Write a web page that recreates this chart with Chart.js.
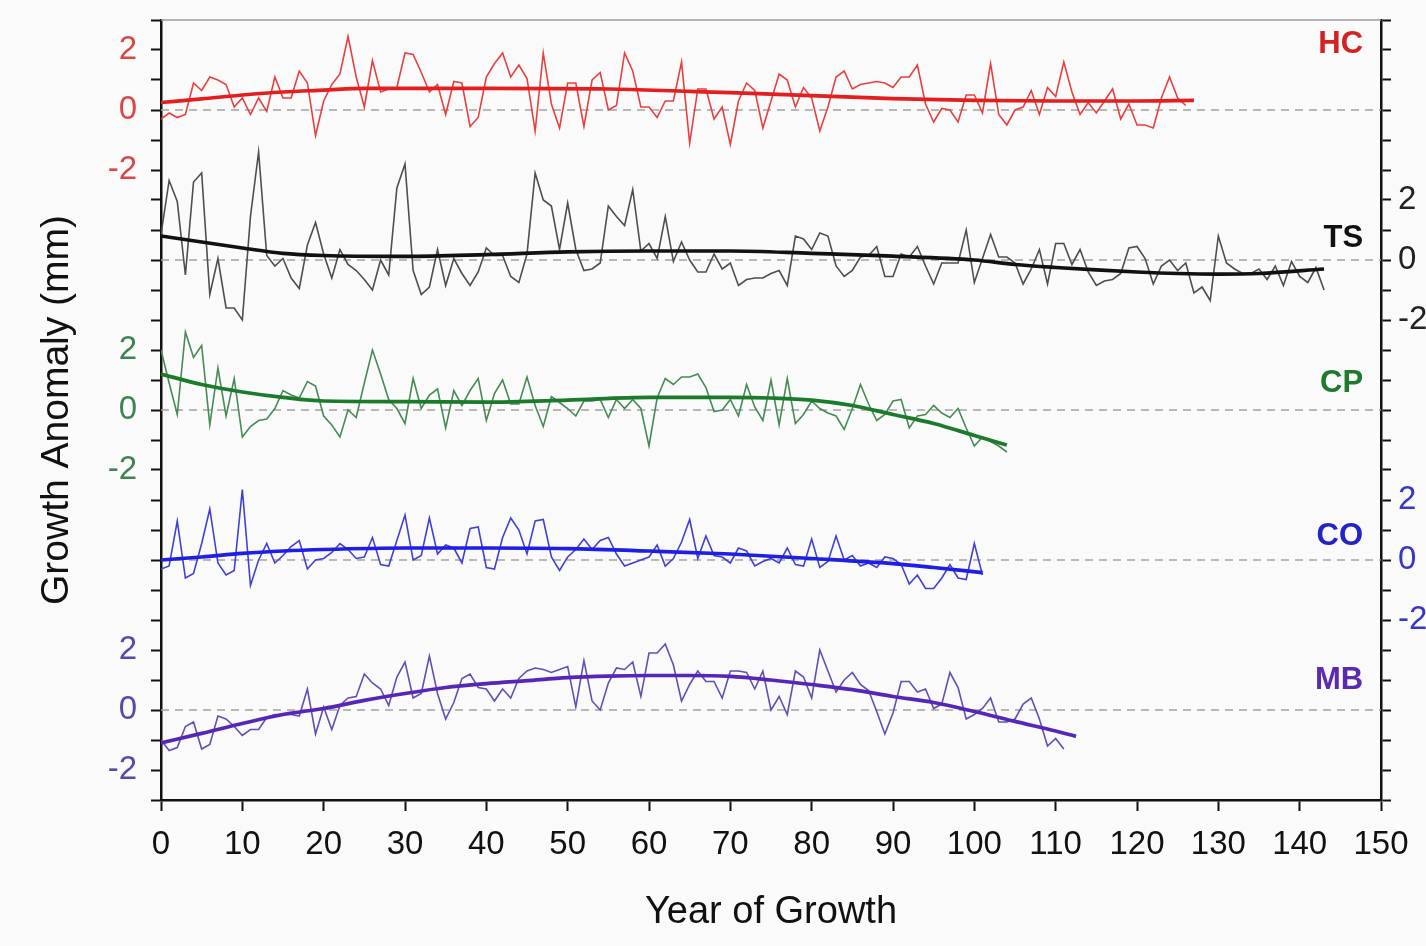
<!DOCTYPE html>
<html>
<head>
<meta charset="utf-8">
<script src="https://cdn.jsdelivr.net/npm/chart.js@4.4.1/dist/chart.umd.min.js"></script>
<style>
  html, body { margin: 0; padding: 0; background: #fafafa; }
  #wrap { width: 1426px; height: 946px; }
</style>
</head>
<body>
<div id="wrap"><canvas id="growthChart"></canvas></div>
<script>
// annual growth anomalies (mm), one value per year of growth from year 0
const hcAnnual = [-0.3, -0.1, -0.25, -0.15, 0.9, 0.65, 1.1, 1.0, 0.85, 0.1, 0.4, -0.15, 0.4, -0.05, 1.1, 0.4, 0.4, 1.3, 0.9, -0.85,
  0.3, 0.85, 1.2, 2.45, 1.1, 0.1, 1.65, 0.6, 0.7, 0.75, 1.9, 1.85, 1.25, 0.6, 0.85, -0.15, 0.95, 0.9, -0.55, -0.25,
  1.1, 1.55, 1.9, 1.1, 1.5, 1.05, -0.7, 1.9, 0.2, -0.6, 0.9, 0.9, -0.55, 1.0, 1.25, 0.0, 0.15, 1.9, 1.3, 0.1,
  0.1, -0.25, 0.3, 0.3, 1.6, -1.1, 0.7, 0.7, -0.3, 0.1, -1.15, 0.3, 0.9, 0.65, -0.6, 0.3, 1.2, 1.0, 0.1, 0.75,
  0.4, -0.7, 0.1, 1.1, 1.3, 0.7, 0.85, 0.9, 0.95, 0.9, 0.75, 1.1, 1.1, 1.5, 0.2, -0.4, 0.05, 0.0, -0.4, 0.5,
  0.5, -0.1, 1.55, -0.15, -0.5, 0.0, 0.1, 0.65, -0.15, 0.75, 0.45, 1.6, 0.6, -0.15, 0.25, -0.1, 0.3, 0.7, -0.3, 0.2,
  -0.5, -0.5, -0.6, 0.4, 1.1, 0.4, 0.15];
const tsAnnual = [0.85, 2.65, 1.95, -0.5, 2.6, 2.9, -1.15, 0.05, -1.6, -1.6, -2.0, 1.45, 3.6, 0.15, -0.2, 0.05, -0.6, -0.95, 0.5, 1.25,
  0.2, -0.6, 0.35, -0.15, -0.35, -0.65, -1.0, 0.0, -0.5, 2.4, 3.2, -0.35, -1.15, -0.9, 0.35, -0.85, 0.05, -0.45, -0.85, -0.4,
  0.4, 0.15, 0.15, -0.55, -0.75, 0.2, 2.9, 2.0, 1.8, 0.35, 1.9, 0.35, -0.35, -0.3, -0.1, 1.8, 1.45, 1.15, 2.35, 0.3,
  0.55, 0.05, 1.45, -0.05, 0.6, 0.0, -0.4, -0.4, 0.2, -0.3, -0.1, -0.85, -0.65, -0.6, -0.6, -0.45, -0.35, -0.85, 0.8, 0.7,
  0.35, 0.9, 0.8, -0.2, -0.55, -0.35, 0.1, 0.15, 0.45, -0.55, -0.55, 0.2, 0.1, 0.45, -0.2, -0.8, -0.1, -0.1, -0.1, 1.0,
  -0.75, 0.05, 0.85, 0.1, 0.1, -0.1, -0.8, -0.3, 0.35, -0.8, 0.55, 0.55, -0.15, 0.35, -0.4, -0.85, -0.7, -0.65, -0.45, 0.4,
  0.45, 0.05, -0.8, -0.2, 0.0, -0.35, -0.1, -1.1, -0.9, -1.35, 0.8, -0.1, -0.3, -0.45, -0.45, -0.3, -0.65, -0.2, -0.85, -0.05,
  -0.55, -0.75, -0.25, -1.0];
const cpAnnual = [2.0, 0.9, -0.15, 2.6, 1.75, 2.15, -0.5, 1.4, -0.2, 1.05, -0.9, -0.55, -0.35, -0.3, 0.05, 0.65, 0.5, 0.4, 0.95, 0.8,
  -0.2, -0.5, -0.9, 0.0, -0.25, 0.9, 2.0, 1.2, 0.35, 0.05, -0.45, 1.05, 0.05, 0.5, 0.7, -0.6, 0.65, 0.15, 0.65, 1.05,
  -0.35, 0.55, 1.0, 0.2, 0.2, 1.1, 0.15, -0.55, 0.45, 0.25, 0.05, -0.2, 0.3, 0.3, 0.35, -0.25, 0.35, 0.05, 0.35, 0.05,
  -1.2, 0.4, 1.05, 0.85, 1.1, 1.1, 1.2, 0.75, -0.05, 0.0, 0.35, -0.2, 0.85, 0.1, -0.35, 1.0, -0.5, 1.05, -0.45, -0.15,
  0.3, 0.05, -0.1, -0.2, -0.65, 0.05, 0.85, 0.2, -0.35, -0.15, 0.3, 0.35, -0.6, -0.2, -0.15, 0.15, -0.1, -0.25, 0.05, -0.6,
  -1.2, -0.9, -1.05, -1.2, -1.4];
const coAnnual = [-0.3, -0.2, 1.3, -0.6, -0.45, 0.55, 1.7, -0.1, -0.5, -0.35, 2.35, -0.85, 0.0, 0.55, -0.1, 0.15, 0.45, 0.65, -0.3, 0.0,
  0.05, 0.25, 0.55, 0.35, 0.05, 0.1, 0.75, -0.15, -0.2, 0.65, 1.5, 0.0, 0.15, 1.4, 0.2, 0.5, 0.4, -0.1, 1.05, 1.1,
  -0.25, -0.3, 0.75, 1.4, 1.0, 0.2, 1.3, 1.35, 0.1, -0.35, 0.1, 0.35, 0.7, 0.35, 0.65, 0.75, 0.2, -0.2, -0.1, 0.0,
  0.1, 0.5, -0.2, 0.05, 0.6, 1.35, 0.05, 0.8, 0.15, 0.1, -0.1, 0.4, 0.3, -0.2, -0.05, 0.05, -0.1, 0.4, -0.15, -0.2,
  0.7, -0.25, -0.05, 0.8, 0.0, 0.15, -0.2, -0.1, -0.25, 0.1, 0.05, -0.15, -0.8, -0.5, -0.95, -0.95, -0.6, -0.15, -0.6, -0.65,
  0.55, -0.5];
const mbAnnual = [-1.0, -1.35, -1.25, -0.55, -0.4, -1.3, -1.15, -0.2, -0.3, -0.55, -0.85, -0.65, -0.65, -0.25, -0.15, -0.15, -0.15, -0.2, 0.7, -0.8,
  0.1, -0.65, 0.15, 0.4, 0.45, 1.2, 0.9, 0.7, 0.15, 1.1, 1.6, 0.4, 0.55, 1.8, 0.55, -0.3, 0.25, 1.05, 1.2, 0.75,
  0.7, 0.3, 0.7, 0.4, 1.05, 1.3, 1.4, 1.35, 1.25, 1.35, 1.45, 0.1, 1.65, 0.3, 0.0, 0.9, 1.4, 1.35, 1.6, 0.45,
  1.9, 1.9, 2.2, 1.5, 0.3, 0.85, 1.3, 0.95, 0.95, 0.4, 1.3, 1.3, 1.25, 0.7, 1.3, 0.0, 0.45, -0.15, 1.3, 1.1,
  0.4, 2.0, 1.3, 0.6, 1.0, 1.25, 0.85, 0.65, -0.05, -0.8, -0.1, 0.95, 0.95, 0.6, 0.7, 0.05, 0.2, 1.25, 0.75, -0.3,
  -0.15, 0.05, 0.4, -0.4, -0.4, -0.3, 0.2, 0.4, -0.3, -1.2, -0.95, -1.3];

// smoothed trend of each record (mm) at the listed years
const hcTrendYears = [0, 5, 10, 15, 20, 25, 40, 55, 65, 70, 80, 90, 100, 110, 120, 127];
const hcTrend = [0.25, 0.37, 0.5, 0.6, 0.66, 0.72, 0.72, 0.7, 0.62, 0.58, 0.48, 0.38, 0.32, 0.3, 0.3, 0.32];
const tsTrendYears = [0, 5, 10, 15, 20, 30, 40, 50, 60, 70, 80, 90, 100, 105, 110, 115, 120, 125, 130, 135, 143];
const tsTrend = [0.8, 0.6, 0.4, 0.22, 0.15, 0.12, 0.18, 0.27, 0.3, 0.3, 0.22, 0.13, 0.0, -0.15, -0.25, -0.33, -0.4, -0.45, -0.47, -0.45, -0.3];
const cpTrendYears = [0, 5, 10, 15, 20, 30, 40, 50, 60, 70, 75, 80, 85, 90, 95, 100, 104];
const cpTrend = [1.2, 0.85, 0.6, 0.42, 0.3, 0.28, 0.26, 0.33, 0.42, 0.42, 0.4, 0.33, 0.15, -0.15, -0.45, -0.85, -1.17];
const coTrendYears = [0, 5, 10, 15, 20, 30, 40, 50, 60, 70, 80, 90, 95, 101];
const coTrend = [0.0, 0.1, 0.22, 0.3, 0.35, 0.4, 0.4, 0.38, 0.3, 0.2, 0.05, -0.12, -0.25, -0.42];
const mbTrendYears = [0, 5, 10, 15, 20, 25, 30, 35, 40, 45, 50, 55, 60, 65, 70, 75, 80, 85, 90, 95, 100, 105, 110, 112.5];
const mbTrend = [-1.1, -0.78, -0.45, -0.15, 0.05, 0.32, 0.55, 0.75, 0.88, 0.98, 1.08, 1.13, 1.15, 1.15, 1.12, 1.0, 0.85, 0.68, 0.45, 0.25, -0.05, -0.38, -0.7, -0.88];

const seriesNames = ["HC", "TS", "CP", "CO", "MB"];
const annualSets = [hcAnnual, tsAnnual, cpAnnual, coAnnual, mbAnnual];
const trendYearSets = [hcTrendYears, tsTrendYears, cpTrendYears, coTrendYears, mbTrendYears];
const trendSets = [hcTrend, tsTrend, cpTrend, coTrend, mbTrend];
const yearTicks = [0, 10, 20, 30, 40, 50, 60, 70, 80, 90, 100, 110, 120, 130, 140, 150];
const anomalyTicks = [2, 0, -2];

// stacking and styling of the five records
const offsets = [0, -5, -10, -15, -20];
const tickSide = ["left", "right", "left", "right", "left"];
const thinColors = ["#e64040", "#4e4e4e", "#468a55", "#4040d2", "#6050b4"];
const thickColors = ["#e41e1e", "#111111", "#1c7a2c", "#1e1ee6", "#5626b8"];
const tickColors = ["#d94848", "#222222", "#3f8256", "#3636c8", "#5a48a8"];
const nameColors = ["#d42222", "#111111", "#1e7a2e", "#2323c8", "#5a2ab2"];
const nameLift = [2.2, 0.73, 0.87, 0.77, 1.0];
const nameYear = 147.8;

const numFont = "'Liberation Sans', Arial, sans-serif";
const textFont = "'Liberation Sans', Arial, sans-serif";

function sideLookup(side, value) {
  for (let i = 0; i < offsets.length; i++) {
    if (tickSide[i] !== side) continue;
    const rel = Math.round(value - offsets[i]);
    if (Math.abs(value - offsets[i] - rel) < 1e-6 && anomalyTicks.includes(rel)) return { i, rel };
  }
  return null;
}

const datasets = [];
seriesNames.forEach((name, i) => {
  datasets.push({
    label: name + " trend",
    data: trendSets[i].map((v, k) => ({ x: trendYearSets[i][k], y: v + offsets[i] })),
    borderColor: thickColors[i],
    borderWidth: 3.7,
    cubicInterpolationMode: "monotone",
    pointRadius: 0,
    order: 0
  });
  datasets.push({
    label: name,
    data: annualSets[i].map((v, yr) => ({ x: yr, y: v + offsets[i] })),
    borderColor: thinColors[i],
    borderWidth: 1.6,
    tension: 0,
    pointRadius: 0,
    order: 1
  });
  datasets.push({
    label: name + " zero",
    data: [{ x: yearTicks[0], y: offsets[i] }, { x: yearTicks[yearTicks.length - 1], y: offsets[i] }],
    borderColor: "#a2a2a2",
    borderWidth: 1.6,
    borderDash: [8, 6],
    pointRadius: 0,
    order: 2
  });
});

const seriesNamePlugin = {
  id: "seriesNames",
  afterDatasetsDraw(chart) {
    const { ctx, scales: { x, y } } = chart;
    ctx.save();
    ctx.font = "bold 31px " + textFont;
    ctx.textAlign = "right";
    ctx.textBaseline = "middle";
    seriesNames.forEach((name, i) => {
      ctx.fillStyle = nameColors[i];
      ctx.fillText(name, x.getPixelForValue(nameYear), y.getPixelForValue(offsets[i] + nameLift[i]));
    });
    ctx.restore();
  }
};

const topFramePlugin = {
  id: "topFrame",
  afterDraw(chart) {
    const { ctx, chartArea } = chart;
    ctx.save();
    ctx.strokeStyle = "#9c9c9c";
    ctx.lineWidth = 1.5;
    ctx.beginPath();
    ctx.moveTo(chartArea.left, chartArea.top);
    ctx.lineTo(chartArea.right, chartArea.top);
    ctx.stroke();
    ctx.restore();
  }
};

const yMin = offsets[offsets.length - 1] - 3;
const yMax = offsets[0] + 3;

function sideAxis(side) {
  return {
    type: "linear",
    position: side,
    min: yMin,
    max: yMax,
    border: { display: true, color: "#111", width: 2.5 },
    grid: { drawOnChartArea: false, drawTicks: true, tickLength: 10, tickColor: "#111", tickWidth: 2 },
    ticks: {
      stepSize: 1,
      autoSkip: false,
      padding: side === "left" ? 14 : 7,
      font: { family: numFont, size: 33 },
      color: ctx => {
        const hit = sideLookup(side, ctx.tick.value);
        return hit ? tickColors[hit.i] : "#000";
      },
      callback: value => {
        const hit = sideLookup(side, value);
        return hit ? String(hit.rel) : "";
      }
    },
    afterFit: s => {
      s.width = side === "left" ? 161 : 45;
      s.paddingTop = 0;
      s.paddingBottom = 0;
    }
  };
}

const leftAxis = sideAxis("left");
leftAxis.title = {
  display: true,
  text: "Growth Anomaly (mm)",
  color: "#111",
  font: { family: textFont, size: 39 },
  padding: { top: 34, bottom: 0 }
};

new Chart(document.getElementById("growthChart"), {
  type: "line",
  data: { datasets },
  options: {
    responsive: true,
    maintainAspectRatio: false,
    animation: false,
    layout: { padding: { top: 20, left: 0, right: 0, bottom: 0 } },
    plugins: { legend: { display: false }, tooltip: { enabled: false } },
    scales: {
      x: {
        type: "linear",
        min: yearTicks[0],
        max: yearTicks[yearTicks.length - 1],
        border: { display: true, color: "#111", width: 2.5 },
        grid: { drawOnChartArea: false, drawTicks: true, tickLength: 11, tickColor: "#111", tickWidth: 2 },
        afterBuildTicks: s => { s.ticks = yearTicks.map(v => ({ value: v })); },
        ticks: {
          autoSkip: false,
          maxRotation: 0,
          padding: 14,
          color: "#111",
          font: { family: numFont, size: 33 }
        },
        title: {
          display: true,
          text: "Year of Growth",
          color: "#111",
          font: { family: textFont, size: 38 },
          padding: { top: 0, bottom: 11 }
        },
        afterFit: s => { s.height = 146; }
      },
      y: leftAxis,
      y2: sideAxis("right")
    }
  },
  plugins: [seriesNamePlugin, topFramePlugin]
});
</script>
</body>
</html>
